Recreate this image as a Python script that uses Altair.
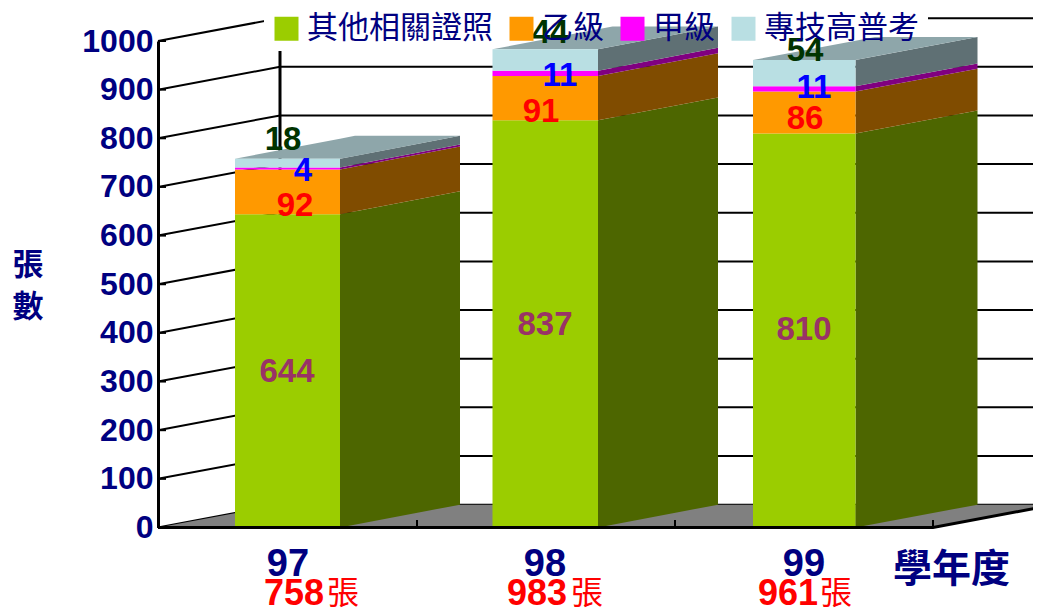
import altair as alt
import pandas as pd

# ---- data
years = ["97", "98", "99"]
totals = [758, 983, 961]
series = ["其他相關證照", "乙級", "甲級", "專技高普考"]
other_cert = [644, 837, 810]
grade_b = [92, 91, 86]
grade_a = [4, 11, 11]
gov_exam = [18, 44, 54]
y_ticks = [0, 100, 200, 300, 400, 500, 600, 700, 800, 900, 1000]

# ---- styles
front_colors = ["#9BCD00", "#FF9900", "#FF00FF", "#B9DFE3"]
side_colors = ["#4D6600", "#804C00", "#800080", "#5F7074"]
top_color = "#8EA6AA"
label_colors = ["#993366", "#FF0000", "#0000FF", "#003300"]
NAVY = "#000080"
LATIN = "Liberation Sans"
CJK = "Noto Sans CJK TC"

# ---- layout (x in page pixels, y depth in value units)
X0, X_END = 158, 1033
PLOT_H = 486.5
PX = PLOT_H / 1000
DX_WALL, DY = 122, 47
X_FRONT_END = 933
bar_left = [235, 492.5, 753]
bar_width = [105, 105.5, 102.5]
bar_depth = [120, 120, 122]
label_center = [288, 545, 804]
tick_x = [417, 675, 933]
# per label nudges in px (dx, dy) for each year and series
nudges = [
    [(-1, 1), (7, 14), (15, 3), (-5, -23)],
    [(0, 1), (-4, 14), (15, 3), (5, -27)],
    [(0, 0), (1, 6), (10, -1), (1, -22)],
]
total_right = [324, 567, 818]
unit_x = [327, 571, 820]

stack = [other_cert, grade_b, grade_a, gov_exam]


def px2val(py):
    return (527.5 - py) / PX


SCALE_Y = alt.Scale(domain=[0, 1000], nice=False, zero=False)
AXIS_Y = alt.Axis(values=y_ticks, title=None, grid=False, tickSize=0, labelPadding=5,
                  domainColor="black", domainWidth=3, labelFont=LATIN, labelFontWeight="bold",
                  labelFontSize=32, labelColor=NAVY, format="d", labelOverlap=False,
                  labelBound=False, labelFlush=False, ticks=False)
X = alt.X("x:Q", scale=alt.Scale(domain=[X0, X_END], nice=False, zero=False), axis=None)
X2 = alt.X2("x2:Q")
Y = alt.Y("y:Q", scale=SCALE_Y, axis=AXIS_Y, stack=None)
Y2 = alt.Y2("y2:Q")

front, side, top, labels = [], [], [], []
for i, yr in enumerate(years):
    base = 0
    left, right = bar_left[i], bar_left[i] + bar_width[i]
    depth = bar_depth[i]
    for s, name in enumerate(series):
        v = stack[s][i]
        hi = base + v
        front.append(dict(x=left, x2=right, y=base, y2=hi, series=name))
        for xx, lo_, hi_ in [(right, base, hi), (right + depth, base + DY, hi + DY)]:
            side.append(dict(x=xx, y=lo_, y2=hi_, bar=f"{yr}-{s}", fill=side_colors[s]))
        ndx, ndy = nudges[i][s]
        labels.append(dict(x=label_center[i] + ndx, y=base + v / 2 - ndy / PX,
                           t=str(v), c=label_colors[s]))
        base = hi
    w = right - left
    t = base
    for xx, lo_, hi_ in [
        (left, t, t),
        (right, t, t + DY * w / depth),
        (left + depth, t + DY * (depth - w) / depth, t + DY),
        (right + depth, t + DY, t + DY),
    ]:
        top.append(dict(x=xx, y=lo_, y2=hi_, bar=yr))

grid = []
for v in y_ticks:
    grid += [dict(x=X0, y=v, k=v), dict(x=X0 + DX_WALL, y=v + DY, k=v), dict(x=X_END + 20, y=v + DY, k=v)]

floor = pd.DataFrame([
    dict(x=X0, y=0, y2=0),
    dict(x=X0 + DX_WALL, y=0, y2=DY),
    dict(x=X_FRONT_END, y=0, y2=DY),
    dict(x=X_FRONT_END + DX_WALL, y=DY, y2=DY),
])
floor_edge = pd.DataFrame([
    dict(x=X0, y=0), dict(x=X_FRONT_END, y=0), dict(x=X_FRONT_END + DX_WALL, y=DY),
])
wall_line = pd.DataFrame([dict(x=X0 + DX_WALL, y=DY, y2=px2val(51))])
legend_mask = pd.DataFrame([dict(x=264, x2=928, y=px2val(50), y2=px2val(-5))])
tick_df = pd.DataFrame([dict(x=x, y=0, y2=px2val(520)) for x in tick_x])
ytick_df = pd.DataFrame([dict(x=X0, x2=X0 + 8, y=v) for v in y_ticks])

grid_layer = alt.Chart(pd.DataFrame(grid)).mark_line(color="black", strokeWidth=2).encode(x=X, y=Y, detail="k:N")
floor_layer = alt.Chart(floor).mark_area(color="#808080", opacity=1).encode(x=X, y=Y, y2=Y2)
wall_layer = alt.Chart(wall_line).mark_rule(color="black", strokeWidth=3).encode(x=X, y=Y, y2=Y2)
mask_layer = alt.Chart(legend_mask).mark_rect(color="white").encode(x=X, x2=X2, y=Y, y2=Y2)
front_layer = alt.Chart(pd.DataFrame(front)).mark_rect().encode(
    x=X, x2=X2, y=Y, y2=Y2,
    color=alt.Color("series:N", scale=alt.Scale(domain=series, range=front_colors),
                    sort=series,
                    legend=alt.Legend(orient="none", legendX=271 - 158, legendY=-28, direction="horizontal",
                                      columns=4, title=None, symbolType="square", symbolSize=576,
                                      symbolStrokeWidth=0, labelFont=CJK, labelFontSize=31, labelColor=NAVY,
                                      labelOffset=5, columnPadding=13, labelLimit=300, padding=0,
                                      symbolOpacity=1)),
)
side_layer = alt.Chart(pd.DataFrame(side)).mark_area(opacity=1).encode(
    x=X, y=Y, y2=Y2, detail="bar:N", fill=alt.Fill("fill:N", scale=None))
top_layer = alt.Chart(pd.DataFrame(top)).mark_area(color=top_color, opacity=1).encode(
    x=X, y=Y, y2=Y2, detail="bar:N")
edge_layer = alt.Chart(floor_edge).mark_line(color="black", strokeWidth=3).encode(x=X, y=Y)
tick_layer = alt.Chart(tick_df).mark_rule(color="black", strokeWidth=2).encode(x=X, y=Y, y2=Y2)
ytick_layer = alt.Chart(ytick_df).mark_rule(color="black", strokeWidth=2).encode(x=X, x2=X2, y=Y)
label_layer = alt.Chart(pd.DataFrame(labels)).mark_text(
    font=LATIN, fontWeight="bold", fontSize=33, baseline="middle", align="center"
).encode(x=X, y=Y, text="t:N", fill=alt.Fill("c:N", scale=None))

year_df = pd.DataFrame(dict(x=label_center, y=[px2val(565)] * 3, t=years))
year_layer = alt.Chart(year_df).mark_text(font=LATIN, fontWeight="bold", fontSize=38, color=NAVY,
                                          baseline="middle", align="center").encode(x=X, y=Y, text="t:N")
total_df = pd.DataFrame(dict(x=total_right, y=[px2val(594)] * 3, t=[str(v) for v in totals]))
total_layer = alt.Chart(total_df).mark_text(font=LATIN, fontWeight="bold", fontSize=36, color="#FF0000",
                                            baseline="middle", align="right").encode(x=X, y=Y, text="t:N")
unit_df = pd.DataFrame(dict(x=unit_x, y=[px2val(594)] * 3, t=["張"] * 3))
unit_layer = alt.Chart(unit_df).mark_text(font=CJK, fontSize=32, color="#FF0000",
                                          baseline="middle", align="left").encode(x=X, y=Y, text="t:N")
xtitle_layer = alt.Chart(pd.DataFrame([dict(x=893, y=px2val(570), t="學年度")])).mark_text(
    font=CJK, fontSize=39, fontWeight="bold", color=NAVY, baseline="middle", align="left").encode(x=X, y=Y, text="t:N")
ytitle_layer = alt.Chart(pd.DataFrame([dict(x=28, y=px2val(266), t="張"), dict(x=28, y=px2val(308), t="數")])).mark_text(
    font=CJK, fontSize=31, fontWeight="bold", color=NAVY, baseline="middle", align="center").encode(x=X, y=Y, text="t:N")

chart = alt.layer(
    grid_layer, floor_layer, wall_layer, mask_layer,
    side_layer, top_layer, front_layer, edge_layer, tick_layer, ytick_layer,
    label_layer, year_layer, total_layer, unit_layer, xtitle_layer, ytitle_layer,
).properties(
    width=X_END - X0, height=PLOT_H,
    autosize=alt.AutoSizeParams(type="none"),
    padding={"left": 150, "top": 33, "right": 0, "bottom": 82},
    background="white",
).configure_view(stroke=None).resolve_scale(fill="independent")

chart.save("out.html", embed_options={"renderer": "svg", "actions": False})
